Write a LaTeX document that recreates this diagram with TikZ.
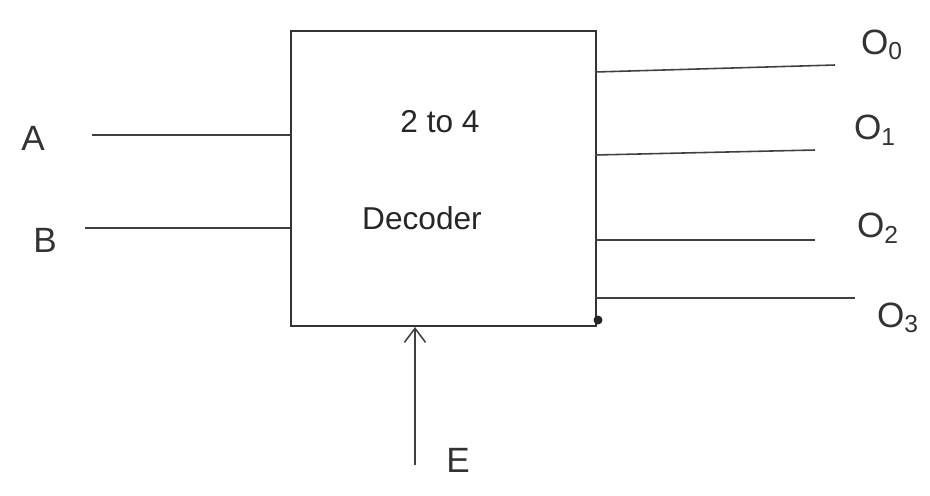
\documentclass[tikz,border=0pt]{standalone}
\usepackage{fontspec}
\setmainfont{Liberation Sans}
\usetikzlibrary{arrows.meta}
\begin{document}
\begin{tikzpicture}[x=0.02cm,y=-0.02cm,
  wire/.style={draw=black!75,line width=0.9pt},
  lbl/.style={font=\fontsize{20}{24}\selectfont,text=black!80,inner sep=0pt},
  boxtext/.style={font=\fontsize{18}{22}\selectfont,text=black!85,inner sep=0pt}]
\useasboundingbox (0,0) rectangle (930,495);
% decoder block
\node[draw=black!80,line width=1pt,minimum width=305*0.02cm,minimum height=295*0.02cm,
  anchor=north west,inner sep=0pt] (dec) at (290,30) {};
\node[boxtext] (t1) at (440,122) {2 to 4};
\node[boxtext] (t2) at (422,218) {Decoder};
% inputs
\coordinate (ai) at (92,135);
\coordinate (bi) at (85,228);
\coordinate (ae) at (290,135);
\coordinate (be) at (290,228);
\node[lbl] (A) at (33,138) {A};
\node[lbl] (B) at (45,240) {B};
\draw[wire] (ai) -- (ae);
\draw[wire] (bi) -- (be);
% outputs
\coordinate (o0s) at (595,72);  \coordinate (o0e) at (835,65);
\coordinate (o1s) at (595,155); \coordinate (o1e) at (815,150);
\coordinate (o2s) at (595,240); \coordinate (o2e) at (815,240);
\coordinate (o3s) at (595,298); \coordinate (o3e) at (855,298);
\draw[wire] (o0s) -- (o0e);
\draw[wire] (o1s) -- (o1e);
\draw[wire] (o2s) -- (o2e);
\draw[wire] (o3s) -- (o3e);
\node[lbl] (O0) at (882,45) {O\textsubscript{0}};
\node[lbl] (O1) at (875,130) {O\textsubscript{1}};
\node[lbl] (O2) at (878,228) {O\textsubscript{2}};
\node[lbl] (O3) at (898,318) {O\textsubscript{3}};
\fill[black!85] (598,320) circle (4.5);
% enable
\coordinate (en) at (415,465);
\coordinate (et) at (415,327);
\draw[wire,-{Straight Barb[length=8pt,width=12pt]}] (en) -- (et);
\node[lbl] (E) at (458,460) {E};
\end{tikzpicture}
\end{document}
